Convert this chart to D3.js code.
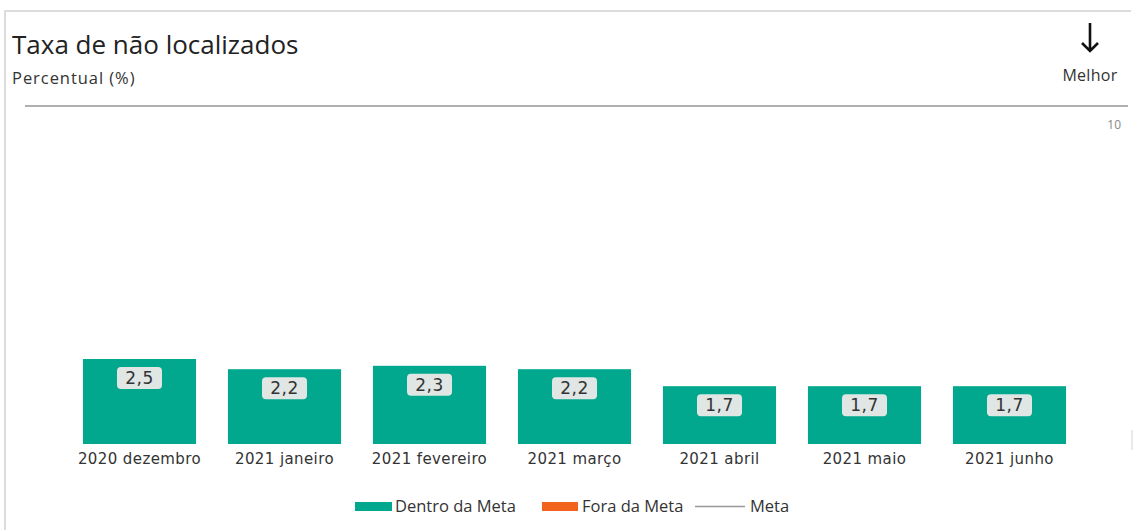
<!DOCTYPE html>
<html><head><meta charset="utf-8">
<script src="https://cdn.jsdelivr.net/npm/d3@7"></script>
<style>body{margin:0;background:#fff;}svg{display:block;}</style>
</head><body>
<script>
const categories = ["2020 dezembro","2021 janeiro","2021 fevereiro","2021 março","2021 abril","2021 maio","2021 junho"];
const values = [2.5, 2.2, 2.3, 2.2, 1.7, 1.7, 1.7];
const valueLabels = ["2,5","2,2","2,3","2,2","1,7","1,7","1,7"];
const yTicks = [10];
const legendItems = ["Dentro da Meta","Fora da Meta","Meta"];

const W = 1134, H = 530;
const svg = d3.select("body").append("svg").attr("width", W).attr("height", H);
const uiFont = "'Open Sans','Noto Sans',sans-serif";
const dataFont = "'DejaVu Sans',Verdana,sans-serif";

// frame
svg.append("path").attr("d", `M5,${H} L5,11 L1131,11`).attr("fill","none").attr("stroke","#dcdcdc").attr("stroke-width",2);
svg.append("line").attr("x1",1132).attr("x2",1132).attr("y1",430).attr("y2",450).attr("stroke","#e2e2e2").attr("stroke-width",1.5);

// title
svg.append("text").attr("x",12).attr("y",54).attr("font-family",uiFont).attr("font-size",26).attr("fill","#222").text("Taxa de não localizados");
svg.append("text").attr("x",12).attr("y",84).attr("font-family",uiFont).attr("font-size",16.5).attr("fill","#333").attr("letter-spacing","0.95").text("Percentual (%)");
svg.append("path").attr("d","M1090,23 L1090,51 M1082,43 L1090,51 L1098,43").attr("fill","none").attr("stroke","#111").attr("stroke-width",2.6).attr("stroke-linejoin","miter");
svg.append("text").attr("x",1090).attr("y",81).attr("text-anchor","middle").attr("font-family",uiFont).attr("font-size",16).attr("fill","#333").attr("letter-spacing","0.3").text("Melhor");
svg.append("line").attr("x1",25).attr("x2",1128).attr("y1",106).attr("y2",106).attr("stroke","#b0b0b0").attr("stroke-width",2);

const x = d3.scaleBand().domain(categories).range([67,1082]).paddingInner(0.22).paddingOuter(0.11);
const y = d3.scaleLinear().domain([0,10]).range([444,104]);

// y tick
svg.append("g").selectAll("text").data(yTicks).join("text")
  .attr("x",1121).attr("y",d=>y(d)+25).attr("text-anchor","end")
  .attr("font-family",uiFont).attr("font-size",12).attr("fill","#888").text(d=>d);

// bars
const g = svg.append("g");
g.selectAll("rect.bar").data(values).join("rect").attr("class","bar")
  .attr("x",(d,i)=>x(categories[i])).attr("width",x.bandwidth())
  .attr("y",d=>y(d)).attr("height",d=>y(0)-y(d)).attr("fill","#01A88D");

// value labels
const lw = 45, lh = 22;
g.selectAll("rect.lbl").data(values).join("rect").attr("class","lbl")
  .attr("x",(d,i)=>x(categories[i])+x.bandwidth()/2-lw/2).attr("y",d=>y(d)+8)
  .attr("width",lw).attr("height",lh).attr("rx",4).attr("fill","#dfe6e4");
g.selectAll("text.val").data(values).join("text").attr("class","val")
  .attr("x",(d,i)=>x(categories[i])+x.bandwidth()/2).attr("y",d=>y(d)+8+lh/2+6)
  .attr("text-anchor","middle").attr("font-family",dataFont).attr("font-size",17).attr("fill","#333")
  .attr("letter-spacing","0.5")
  .text((d,i)=>valueLabels[i]);

// x axis
const xa = svg.append("g").attr("transform",`translate(0,${y(0)})`).call(d3.axisBottom(x).tickSize(0).tickPadding(9));
xa.select(".domain").remove();
xa.selectAll("text").attr("font-family",dataFont).attr("font-size",15).attr("fill","#333").attr("letter-spacing","0.4");

// legend
const lg = svg.append("g").attr("font-family",uiFont).attr("font-size",16.5).attr("fill","#333");
lg.append("rect").attr("x",355).attr("y",502).attr("width",37).attr("height",9).attr("fill","#01A88D");
lg.append("text").attr("x",395).attr("y",512).text(legendItems[0]);
lg.append("rect").attr("x",542).attr("y",502).attr("width",36).attr("height",9).attr("fill","#F2641E");
lg.append("text").attr("x",582).attr("y",512).text(legendItems[1]);
lg.append("line").attr("x1",695).attr("x2",745).attr("y1",506.5).attr("y2",506.5).attr("stroke","#999").attr("stroke-width",1.5);
lg.append("text").attr("x",750).attr("y",512).text(legendItems[2]);
</script>
</body></html>
